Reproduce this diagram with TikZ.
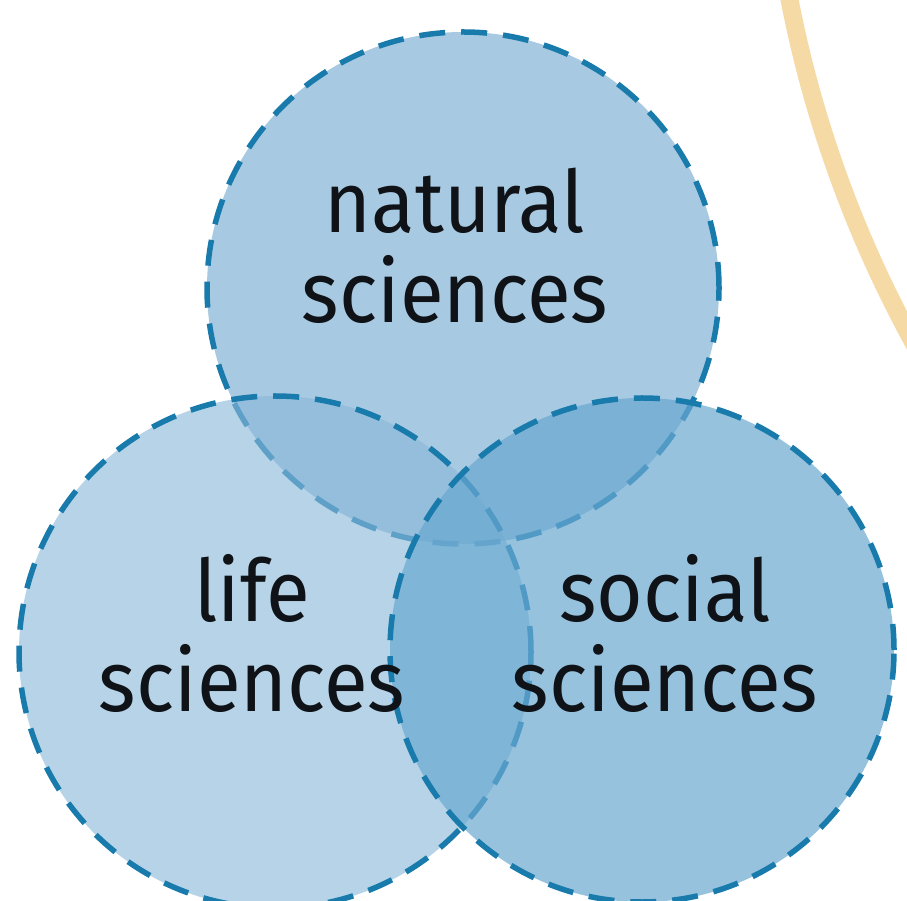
\documentclass[tikz,border=0pt]{standalone}
\usepackage{fontspec}
\setmainfont{Fira Sans}
\newfontfamily\lblfont[FakeStretch=0.93]{Fira Sans}
\definecolor{natfill}{RGB}{167,201,225}
\definecolor{lifefill}{RGB}{137,184,216}
\definecolor{socfill}{RGB}{105,168,208}
\definecolor{rim}{RGB}{25,122,172}
\definecolor{beigearc}{RGB}{246,218,165}
\definecolor{ink}{RGB}{15,18,22}
\begin{document}
\begin{tikzpicture}[x=1pt,y=1pt,
  venn/.style={circle, draw=rim, line width=5.5pt, dash pattern=on 26pt off 16pt, inner sep=0pt, outer sep=0pt},
  lbl/.style={text=ink, align=center, font=\lblfont\fontsize{86}{90}\selectfont, inner sep=0pt, anchor=base}]
\useasboundingbox (0,0) rectangle (907,900);
\clip (0,0) rectangle (907,900);
\node[circle, draw=beigearc, line width=18pt, minimum size=2382pt, inner sep=0pt] (outer) at (1958.6,1128.9) {};
\node[venn, fill=natfill, minimum size=512pt] (nat) at (463,612) {};
\node[venn, fill=lifefill, fill opacity=0.62, minimum size=512pt] (life) at (275,248) {};
\node[venn, fill=socfill, fill opacity=0.7, minimum size=504pt] (soc) at (642,250) {};
\node[lbl] (natl) at (455,577) {natural\\sciences};
\node[lbl] (lifel) at (252,189) {life\\sciences};
\node[lbl] (socl) at (665,189) {social\\sciences};
\end{tikzpicture}
\end{document}
